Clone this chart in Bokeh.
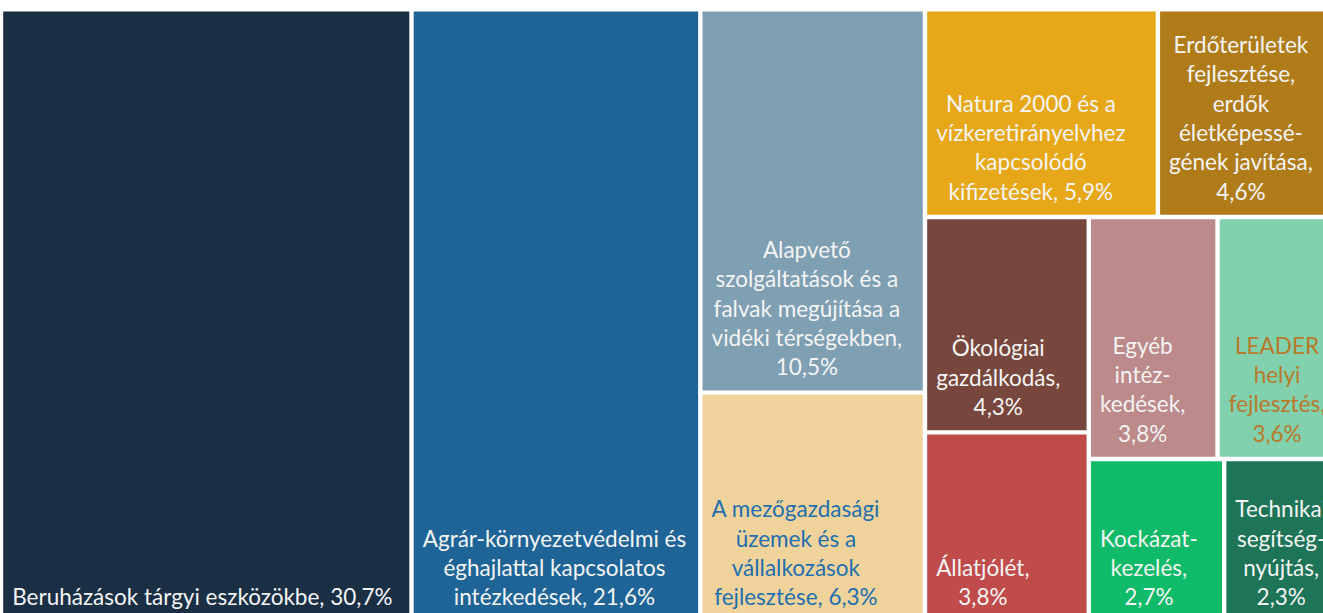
from bokeh.plotting import figure
from bokeh.models import ColumnDataSource, Range1d
from bokeh.core.properties import value
from bokeh.embed import file_html
from bokeh.resources import INLINE

# ---- data ----
names = [
    "Beruházások tárgyi eszközökbe",
    "Agrár-környezetvédelmi és\néghajlattal kapcsolatos\nintézkedések",
    "Alapvető\nszolgáltatások és a\nfalvak megújítása a\nvidéki térségekben",
    "A mezőgazdasági\nüzemek és a\nvállalkozások\nfejlesztése",
    "Natura 2000 és a\nvízkeretirányelvhez\nkapcsolódó\nkifizetések",
    "Erdőterületek\nfejlesztése,\nerdők\néletképessé-\ngének javítása",
    "Ökológiai\ngazdálkodás",
    "Állatjólét",
    "Egyéb\nintéz-\nkedések",
    "LEADER\nhelyi\nfejlesztés",
    "Kockázat-\nkezelés",
    "Technikai\nsegítség-\nnyújtás",
]
values = [30.7, 21.6, 10.5, 6.3, 5.9, 4.6, 4.3, 3.8, 3.8, 3.6, 2.7, 2.3]
separators = [", ", ", ", ",\n", ", ", ", ", ",\n", ",\n", ",\n", ",\n", ",\n", ",\n", ",\n"]
fill_colors = ["#1a2e44", "#1f6496", "#7f9fb2", "#f0d29b", "#e6a818", "#b07c1a",
               "#77463c", "#bf4b4b", "#bc8a8a", "#82d1ae", "#0fba68", "#1d7457"]
text_colors = ["#f4f4f4", "#f4f4f4", "#f4f4f4", "#1f6fae", "#f4f4f4", "#f4f4f4",
               "#f4f4f4", "#f4f4f4", "#f4f4f4", "#b8792a", "#f4f4f4", "#f4f4f4"]


# ---- squarified treemap layout ----
def layout_part(sizes, x, y, dx, dy):
    covered = sum(sizes)
    rects = []
    if dx >= dy:
        w = covered / dy
        for s in sizes:
            rects.append((x, y, w, s / w))
            y += s / w
    else:
        h = covered / dx
        for s in sizes:
            rects.append((x, y, s / h, h))
            x += s / h
    return rects


def leftover(sizes, x, y, dx, dy):
    covered = sum(sizes)
    if dx >= dy:
        w = covered / dy
        return x + w, y, dx - w, dy
    h = covered / dx
    return x, y + h, dx, dy - h


def worst(sizes, x, y, dx, dy):
    return max(max(w / h, h / w) for (_, _, w, h) in layout_part(sizes, x, y, dx, dy))


def squarify(sizes, x, y, dx, dy):
    if not sizes:
        return []
    if len(sizes) == 1:
        return layout_part(sizes, x, y, dx, dy)
    i = 1
    while i < len(sizes) and worst(sizes[:i], x, y, dx, dy) >= worst(sizes[:i + 1], x, y, dx, dy):
        i += 1
    cur, rest = sizes[:i], sizes[i:]
    lx, ly, ldx, ldy = leftover(cur, x, y, dx, dy)
    return layout_part(cur, x, y, dx, dy) + squarify(rest, lx, ly, ldx, ldy)


X0, Y0, W, H = 0.5, 8.8, 1338.5, 613.3
total = sum(values)
areas = [v / total * W * H for v in values]
rects = squarify(areas, X0, Y0, W, H)

gap = 2.2
left = [r[0] + gap for r in rects]
right = [r[0] + r[2] - gap for r in rects]
top = [r[1] + gap for r in rects]
bottom = [r[1] + r[3] - gap for r in rects]

labels = [n + s + f"{v:.1f}".replace(".", ",") + "%" for n, s, v in zip(names, separators, values)]

src = ColumnDataSource(dict(left=left, right=right, top=top, bottom=bottom,
                            fill=fill_colors, tcol=text_colors, label=labels,
                            tx=[l + 9 for l in left], ty=[b - 10 for b in bottom]))

p = figure(width=1323, height=613, x_range=Range1d(0, 1323), y_range=Range1d(613, 0),
           output_backend="svg", toolbar_location=None, x_axis_type=None, y_axis_type=None,
           min_border=0)
p.grid.visible = False
p.outline_line_color = None
p.background_fill_color = "white"
p.border_fill_color = "white"

p.quad(left="left", right="right", top="top", bottom="bottom", fill_color="fill",
       line_color=None, source=src)
p.text(x="tx", y="ty", text="label", source=src, text_color="tcol",
       text_font=value("Lato"), text_font_size="22.5px", text_align="center",
       anchor=value("bottom_left"), text_line_height=1.09)

open("out.html", "w").write(file_html(p, INLINE))
